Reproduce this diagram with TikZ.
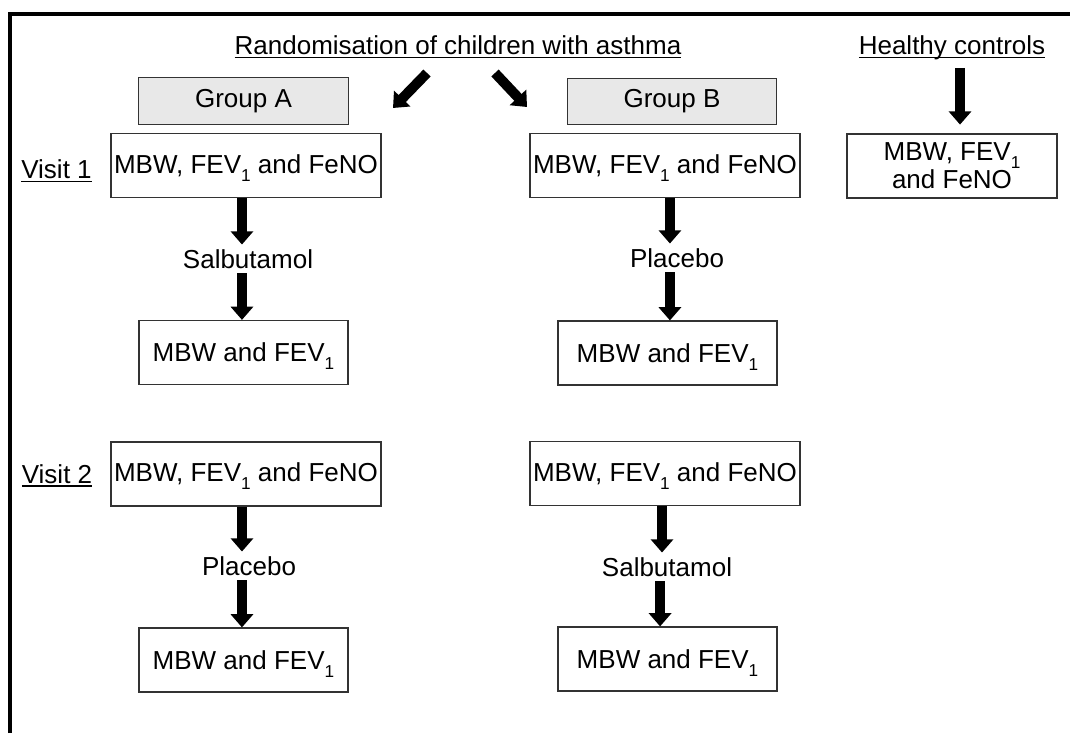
\documentclass[tikz,border=0pt]{standalone}
\usepackage{fontspec}
\setmainfont{Liberation Sans}
\usetikzlibrary{arrows.meta}

\newcommand{\ulined}[1]{\setbox0\hbox{#1}\rlap{\rule[-2.1pt]{\wd0}{0.8pt}}\box0}
\newcommand{\lowsub}[1]{\raisebox{-0.3em}[0pt][0pt]{\fontsize{9.8}{11}\selectfont #1}}

\begin{document}
\begin{tikzpicture}[x=0.02cm,y=-0.02cm,
    every node/.style={font=\fontsize{14.8}{17.8}\selectfont},
    box/.style={draw=black!80,line width=0.7pt,inner sep=0pt,minimum height=1.28cm},
    widebox/.style={box,minimum width=5.4cm},
    smallbox/.style={box,minimum width=4.18cm},
    groupbox/.style={box,fill=gray!18,minimum width=4.19cm,minimum height=0.93cm},
    drug/.style={inner sep=2.6pt},
    fat/.style={line width=5.7pt,-{Triangle[width=12.5pt,length=7.5pt]}}]
    \useasboundingbox (0,0) rectangle (1070,733);
    \draw[line width=2.3pt] (10.3,733) -- (10.3,13.7) -- (1070,13.7);

    % headings
    \node[anchor=base] (rand) at (458,54.5) {\ulined{Randomisation of children with asthma}};
    \node[anchor=base] (healthy) at (952,54.5) {\ulined{Healthy controls}};
    \node[anchor=base] (visitA) at (56.5,178.5) {\ulined{Visit 1}};
    \node[anchor=base] (visitB) at (57,483) {\ulined{Visit 2}};

    \node[groupbox] (grpA) at (243.5,101) {Group A};
    \node[groupbox] (grpB) at (672,101.5) {Group B};

    \coordinate (randL) at (427,73);
    \coordinate (randLend) at (393,108);
    \coordinate (randR) at (495,73);
    \coordinate (randRend) at (527,107);
    \draw[fat] (randL) -- (randLend);
    \draw[fat] (randR) -- (randRend);

    % healthy controls
    \node[box,minimum width=4.2cm,align=center,font=\fontsize{14.8}{16}\selectfont] (hc) at (952,166)
        {MBW, FEV\lowsub{1}\\and FeNO};
    \coordinate (hcTop) at (960,68);
    \draw[fat,shorten >=5pt] (hcTop) -- (hcTop |- hc.north);

    % group A
    \node[widebox] (a1) at (246,165.5) {MBW, FEV\lowsub{1} and FeNO};
    \node[drug] (salA) at (248,259) {Salbutamol};
    \node[smallbox] (a2) at (243.5,352.5) {MBW and FEV\lowsub{1}};
    \node[widebox] (a3) at (246,474) {MBW, FEV\lowsub{1} and FeNO};
    \node[drug] (plaA) at (249,566) {Placebo};
    \node[smallbox] (a4) at (243.5,660) {MBW and FEV\lowsub{1}};

    \draw[fat] ([xshift=-2.3pt]a1.south) -- ([xshift=-2.3pt]a1.south |- salA.north);
    \draw[fat] ([xshift=-2.3pt]a1.south |- salA.south) -- ([xshift=-2.3pt]a1.south |- a2.north);
    \draw[fat] ([xshift=-2.3pt]a3.south) -- ([xshift=-2.3pt]a3.south |- plaA.north);
    \draw[fat] ([xshift=-2.3pt]a3.south |- plaA.south) -- ([xshift=-2.3pt]a3.south |- a4.north);

    % group B
    \node[widebox] (b1) at (665,165.5) {MBW, FEV\lowsub{1} and FeNO};
    \node[drug] (plaB) at (677,258) {Placebo};
    \node[smallbox,minimum width=4.38cm] (b2) at (667.5,353) {MBW and FEV\lowsub{1}};
    \node[widebox] (b3) at (665,473.5) {MBW, FEV\lowsub{1} and FeNO};
    \node[drug] (salB) at (667,567) {Salbutamol};
    \node[smallbox,minimum width=4.38cm] (b4) at (667.5,659) {MBW and FEV\lowsub{1}};

    \draw[fat] ([xshift=2.8pt]b1.south) -- ([xshift=2.8pt]b1.south |- plaB.north);
    \draw[fat] ([xshift=2.8pt]b1.south |- plaB.south) -- ([xshift=2.8pt]b1.south |- b2.north);
    \draw[fat] ([xshift=-1.7pt]b3.south) -- ([xshift=-1.7pt]b3.south |- salB.north);
    \draw[fat] ([xshift=-2.8pt]b3.south |- salB.south) -- ([xshift=-2.8pt]b3.south |- b4.north);
\end{tikzpicture}
\end{document}
